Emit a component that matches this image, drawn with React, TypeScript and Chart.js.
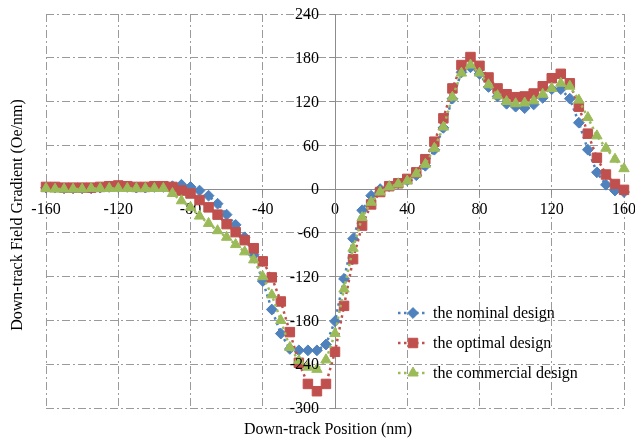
import React, { useEffect, useRef } from 'react';
import { Chart, registerables } from 'chart.js';

Chart.register(...registerables);

const positions = [
  -160, -155, -150, -145, -140, -135, -130, -125, -120, -115, -110, -105, -100, -95,
  -90, -85, -80, -75, -70, -65, -60, -55, -50, -45, -40, -35, -30, -25, -20, -15, -10, -5,
  0, 5, 10, 15, 20, 25, 30, 35, 40, 45, 50, 55, 60, 65, 70, 75, 80, 85, 90, 95, 100,
  105, 110, 115, 120, 125, 130, 135, 140, 145, 150, 155, 160,
];

const nominalDesign = [
  2, 2, 1, 1, 1, 1, 2, 3, 3, 3, 2, 2, 3, 3,
  4, 6, 3, -2, -9, -20, -35, -49, -66, -90, -126, -165, -198, -219, -221, -221, -221, -213,
  -181, -123, -68, -29, -9, 0, 4, 8, 12, 19, 32, 54, 84, 124, 160, 167, 158, 140, 127, 117, 113,
  111, 116, 125, 137, 137, 124, 91, 54, 23, 6, -2, -4,
];

const optimalDesign = [
  3, 3, 2, 2, 2, 2, 3, 4, 5, 4, 3, 3, 4, 4,
  3, -2, -6, -15, -25, -35, -48, -59, -70, -81, -99, -121, -154, -196, -238, -267, -277, -267,
  -223, -160, -96, -50, -21, -4, 4, 8, 14, 23, 41, 65, 97, 138, 170, 181, 169, 153, 138, 130, 126,
  127, 131, 141, 152, 158, 145, 113, 76, 43, 20, 7, -1,
];

const commercialDesign = [
  1, 0, 0, 0, 0, 1, 1, 1, 1, 1, 1, 1, 1, 1,
  -6, -16, -25, -37, -47, -57, -66, -76, -86, -97, -120, -145, -180, -217, -235, -244, -247, -234,
  -198, -137, -81, -39, -18, -4, 3, 7, 11, 21, 34, 56, 85, 126, 159, 170, 159, 143, 128, 120, 117,
  118, 121, 130, 138, 145, 141, 122, 98, 73, 56, 41, 28,
];

const seriesNames = ['the nominal design', 'the optimal design', 'the commercial design'];
const xTicks = [-160, -120, -80, -40, 0, 40, 80, 120, 160];
const yTicks = [-300, -240, -180, -120, -60, 0, 60, 120, 180, 240];
const xTitle = 'Down-track Position (nm)';
const yTitle = 'Down-track Field Gradient (Oe/nm)';

const BLUE = '#4F81BD';
const RED = '#C0504D';
const GREEN = '#9BBB59';
const FONT = '"Liberation Serif", "Times New Roman", serif';
const GRID = '#9a9a9a';
const AXIS = '#8c8c8c';

const markerSpecs = [
  { color: BLUE, style: 'rectRot', radius: 5.4 },
  { color: RED, style: 'rect', radius: 6.7 },
  { color: GREEN, style: 'triangle', radius: 6 },
];

function drawMarker(ctx: CanvasRenderingContext2D, style: string, x: number, y: number, r: number, color: string) {
  ctx.save();
  ctx.fillStyle = color;
  ctx.strokeStyle = color;
  ctx.lineWidth = 1;
  ctx.beginPath();
  if (style === 'rectRot') {
    ctx.moveTo(x - r, y);
    ctx.lineTo(x, y - r);
    ctx.lineTo(x + r, y);
    ctx.lineTo(x, y + r);
    ctx.closePath();
  } else if (style === 'rect') {
    const s = Math.SQRT1_2 * r;
    ctx.rect(x - s, y - s, 2 * s, 2 * s);
  } else {
    ctx.moveTo(x, y - r);
    ctx.lineTo(x + 0.866 * r, y + 0.5 * r);
    ctx.lineTo(x - 0.866 * r, y + 0.5 * r);
    ctx.closePath();
  }
  ctx.fill();
  ctx.stroke();
  ctx.restore();
}

const overlayPlugin = {
  id: 'overlay',
  afterDraw(chart: any) {
    const { ctx, chartArea } = chart;
    const xs = chart.scales.x;
    const ys = chart.scales.y;
    ctx.save();
    ctx.fillStyle = '#000';
    ctx.font = `16px ${FONT}`;

    // y tick labels, left of the y axis (which sits at x = 0)
    const axisX = xs.getPixelForValue(0);
    ctx.textAlign = 'right';
    ctx.textBaseline = 'middle';
    ys.ticks.forEach((t: any) => {
      ctx.fillText(String(t.value), axisX - 16, ys.getPixelForValue(t.value) + 1);
    });

    // axis titles
    ctx.textAlign = 'center';
    ctx.fillText(xTitle, chartArea.left + 282, 430);
    ctx.save();
    ctx.translate(18, (chartArea.top + chartArea.bottom) / 2 + 4);
    ctx.rotate(-Math.PI / 2);
    ctx.fillText(yTitle, 0, 0);
    ctx.restore();

    // legend
    const lx = chartArea.left + 352;
    const rows = [313, 343, 373];
    seriesNames.forEach((name, i) => {
      const y = rows[i];
      const spec = markerSpecs[i];
      ctx.save();
      ctx.strokeStyle = spec.color;
      ctx.lineWidth = 2.5;
      ctx.setLineDash([2.5, 3.5]);
      ctx.beginPath();
      ctx.moveTo(lx, y);
      ctx.lineTo(lx + 30, y);
      ctx.stroke();
      ctx.restore();
      drawMarker(ctx, spec.style, lx + 15, y, spec.radius, spec.color);
      ctx.fillStyle = '#000';
      ctx.font = `16px ${FONT}`;
      ctx.textAlign = 'left';
      ctx.textBaseline = 'middle';
      ctx.fillText(name, lx + 35, y + 1);
    });
    ctx.restore();
  },
};

export default function App() {
  const canvasRef = useRef<HTMLCanvasElement | null>(null);

  useEffect(() => {
    if (!canvasRef.current) return;
    const makeData = (values: number[]) => positions.map((x, i) => ({ x, y: values[i] }));
    const seriesValues = [nominalDesign, optimalDesign, commercialDesign];
    const orders = [2, 1, 0];
    const datasets = seriesValues.map((vals, i) => ({
      label: seriesNames[i],
      data: makeData(vals),
      borderColor: markerSpecs[i].color,
      backgroundColor: markerSpecs[i].color,
      borderWidth: 2.5,
      borderDash: [2.5, 3.5],
      pointStyle: markerSpecs[i].style,
      pointRadius: markerSpecs[i].radius,
      pointBackgroundColor: markerSpecs[i].color,
      pointBorderColor: markerSpecs[i].color,
      pointBorderWidth: 1,
      tension: 0,
      order: orders[i],
      clip: false as any,
    }));

    const zeroPadding = (axis: any) => {
      axis.paddingLeft = 0;
      axis.paddingRight = 0;
      axis.paddingTop = 0;
      axis.paddingBottom = 0;
    };

    const chart = new Chart(canvasRef.current, {
      type: 'line',
      data: { datasets: datasets as any },
      options: {
        animation: false,
        responsive: false,
        layout: { autoPadding: false, padding: { left: 46, top: 14, right: 11, bottom: 32 } } as any,
        plugins: { legend: { display: false }, tooltip: { enabled: false } },
        scales: {
          x: {
            type: 'linear',
            min: -160,
            max: 160,
            position: { y: 0 } as any,
            afterBuildTicks: (axis: any) => {
              axis.ticks = xTicks.map((v) => ({ value: v }));
            },
            afterFit: zeroPadding,
            ticks: {
              autoSkip: false,
              maxRotation: 0,
              color: '#000',
              font: { family: FONT, size: 16 },
              padding: 6,
            },
            grid: { color: GRID, lineWidth: 1, tickLength: 5, tickColor: AXIS },
            border: { display: true, color: AXIS, width: 1, dash: [8, 3, 2, 3] },
          },
          y: {
            type: 'linear',
            min: -300,
            max: 240,
            position: { x: 0 } as any,
            afterBuildTicks: (axis: any) => {
              axis.ticks = yTicks.map((v) => ({ value: v }));
            },
            afterFit: zeroPadding,
            ticks: {
              display: false,
              autoSkip: false,
            },
            grid: { color: GRID, lineWidth: 1, tickLength: 5, tickColor: AXIS },
            border: { display: true, color: AXIS, width: 1, dash: [8, 3, 2, 3] },
          },
        },
      },
      plugins: [overlayPlugin],
    });
    return () => chart.destroy();
  }, []);

  return (
    <div style={{ position: 'absolute', left: 0, top: 0, width: 635, height: 440, background: '#fff' }}>
      <canvas ref={canvasRef} width={635} height={440} style={{ display: 'block' }} />
    </div>
  );
}
